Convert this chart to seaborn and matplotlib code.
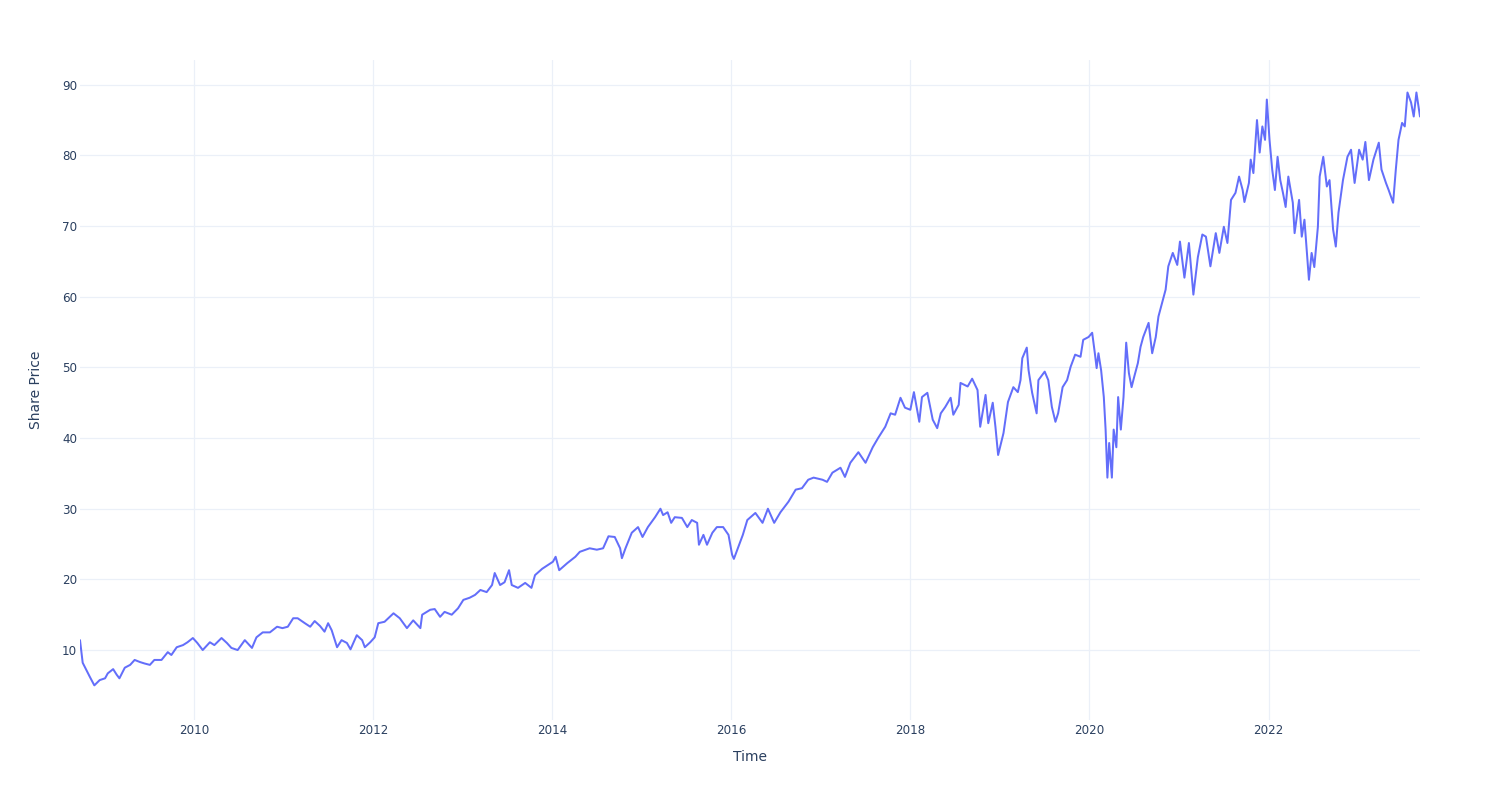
import matplotlib
matplotlib.use("Agg")
import matplotlib.pyplot as plt
import seaborn as sns
import pandas as pd

# Decimal-year timestamps and share prices
years = [
    2008.73, 2008.76, 2008.80, 2008.84, 2008.89, 2008.95, 2009.01, 2009.04, 2009.10, 2009.14,
    2009.17, 2009.23, 2009.29, 2009.34, 2009.40, 2009.45, 2009.51, 2009.56, 2009.64, 2009.71,
    2009.75, 2009.81, 2009.88, 2009.93, 2009.99, 2010.04, 2010.10, 2010.18, 2010.23, 2010.31,
    2010.37, 2010.42, 2010.49, 2010.57, 2010.65, 2010.70, 2010.77, 2010.85, 2010.93, 2010.99,
    2011.05, 2011.11, 2011.16, 2011.24, 2011.30, 2011.35, 2011.41, 2011.46, 2011.50, 2011.54,
    2011.60, 2011.65, 2011.71, 2011.75, 2011.82, 2011.88, 2011.91, 2011.97, 2012.02, 2012.06,
    2012.13, 2012.23, 2012.30, 2012.38, 2012.45, 2012.53, 2012.55, 2012.64, 2012.69, 2012.75,
    2012.80, 2012.88, 2012.95, 2013.01, 2013.08, 2013.14, 2013.20, 2013.27, 2013.33, 2013.36,
    2013.42, 2013.47, 2013.52, 2013.55, 2013.62, 2013.70, 2013.77, 2013.81, 2013.89, 2014.01,
    2014.04, 2014.08, 2014.17, 2014.26, 2014.31, 2014.42, 2014.50, 2014.57, 2014.63, 2014.70,
    2014.76, 2014.78, 2014.82, 2014.89, 2014.96, 2015.01, 2015.07, 2015.15, 2015.21, 2015.24,
    2015.29, 2015.33, 2015.37, 2015.45, 2015.51, 2015.56, 2015.62, 2015.64, 2015.69, 2015.73,
    2015.79, 2015.84, 2015.91, 2015.97, 2016.01, 2016.03, 2016.08, 2016.13, 2016.18, 2016.27,
    2016.35, 2016.41, 2016.48, 2016.55, 2016.64, 2016.72, 2016.79, 2016.86, 2016.92, 2017.02,
    2017.07, 2017.13, 2017.22, 2017.27, 2017.33, 2017.42, 2017.50, 2017.58, 2017.64, 2017.72,
    2017.78, 2017.83, 2017.89, 2017.94, 2018.00, 2018.04, 2018.10, 2018.13, 2018.19, 2018.25,
    2018.30, 2018.34, 2018.39, 2018.45, 2018.48, 2018.54, 2018.56, 2018.64, 2018.69, 2018.75,
    2018.78, 2018.84, 2018.87, 2018.92, 2018.95, 2018.98, 2019.04, 2019.09, 2019.15, 2019.20,
    2019.23, 2019.25, 2019.30, 2019.32, 2019.36, 2019.41, 2019.43, 2019.50, 2019.54, 2019.58,
    2019.62, 2019.65, 2019.70, 2019.75, 2019.79, 2019.84, 2019.90, 2019.93, 2019.99, 2020.03,
    2020.06, 2020.08, 2020.10, 2020.13, 2020.16, 2020.18, 2020.20, 2020.22, 2020.25, 2020.27,
    2020.30, 2020.32, 2020.35, 2020.38, 2020.41, 2020.44, 2020.47, 2020.50, 2020.54, 2020.57,
    2020.60, 2020.66, 2020.70, 2020.74, 2020.77, 2020.82, 2020.85, 2020.88, 2020.93, 2020.98,
    2021.01, 2021.06, 2021.11, 2021.16, 2021.21, 2021.26, 2021.30, 2021.35, 2021.41, 2021.45,
    2021.50, 2021.54, 2021.58, 2021.63, 2021.67, 2021.71, 2021.73, 2021.78, 2021.80, 2021.83,
    2021.87, 2021.90, 2021.93, 2021.96, 2021.98, 2022.01, 2022.04, 2022.07, 2022.10, 2022.13,
    2022.16, 2022.19, 2022.22, 2022.27, 2022.29, 2022.34, 2022.37, 2022.40, 2022.45, 2022.48,
    2022.51, 2022.55, 2022.57, 2022.61, 2022.65, 2022.68, 2022.72, 2022.75, 2022.78, 2022.83,
    2022.88, 2022.92, 2022.96, 2023.01, 2023.05, 2023.08, 2023.12, 2023.17, 2023.23, 2023.26,
    2023.31, 2023.34, 2023.39, 2023.42, 2023.45, 2023.49, 2023.52, 2023.55, 2023.59, 2023.62,
    2023.65, 2023.69,
]

prices = [
    11.4, 8.2, 7.2, 6.2, 5.0, 5.75, 6.0, 6.7, 7.3, 6.5,
    6.0, 7.5, 7.9, 8.6, 8.3, 8.1, 7.9, 8.6, 8.6, 9.7,
    9.3, 10.4, 10.7, 11.1, 11.7, 11.0, 10.0, 11.1, 10.7, 11.7,
    11.0, 10.3, 10.0, 11.4, 10.3, 11.8, 12.5, 12.5, 13.3, 13.1,
    13.3, 14.5, 14.5, 13.8, 13.3, 14.1, 13.4, 12.6, 13.8, 12.8,
    10.4, 11.4, 11.0, 10.1, 12.1, 11.4, 10.4, 11.1, 11.8, 13.8,
    14.0, 15.2, 14.5, 13.1, 14.2, 13.1, 15.0, 15.7, 15.8, 14.7,
    15.4, 15.0, 15.9, 17.1, 17.4, 17.8, 18.5, 18.2, 19.2, 20.9,
    19.2, 19.6, 21.3, 19.2, 18.8, 19.5, 18.8, 20.6, 21.5, 22.5,
    23.2, 21.3, 22.3, 23.2, 23.9, 24.4, 24.2, 24.4, 26.1, 26.0,
    24.4, 23.0, 24.4, 26.6, 27.4, 26.0, 27.4, 28.8, 30.0, 29.1,
    29.5, 28.0, 28.8, 28.7, 27.4, 28.4, 28.0, 24.9, 26.3, 24.9,
    26.6, 27.4, 27.4, 26.3, 23.5, 22.9, 24.6, 26.3, 28.4, 29.4,
    28.0, 30.0, 28.0, 29.5, 31.0, 32.7, 32.9, 34.1, 34.4, 34.1,
    33.8, 35.1, 35.8, 34.5, 36.5, 38.0, 36.5, 38.7, 40.0, 41.6,
    43.5, 43.3, 45.7, 44.3, 44.0, 46.5, 42.3, 45.8, 46.4, 42.6,
    41.4, 43.5, 44.4, 45.7, 43.3, 44.7, 47.8, 47.3, 48.4, 46.8,
    41.6, 46.1, 42.1, 45.0, 41.6, 37.6, 40.7, 45.1, 47.2, 46.5,
    48.2, 51.3, 52.8, 49.6, 46.4, 43.5, 48.2, 49.4, 48.2, 44.4,
    42.3, 43.5, 47.2, 48.2, 50.1, 51.8, 51.5, 53.9, 54.3, 54.9,
    52.0, 49.9, 52.0, 49.6, 45.8, 41.2, 34.4, 39.3, 34.4, 41.2,
    38.7, 45.8, 41.2, 45.8, 53.5, 49.2, 47.2, 48.7, 50.6, 52.9,
    54.3, 56.3, 52.0, 54.3, 57.2, 59.6, 61.0, 64.3, 66.2, 64.5,
    67.8, 62.7, 67.6, 60.3, 65.6, 68.8, 68.5, 64.3, 69.0, 66.2,
    69.9, 67.6, 73.7, 74.7, 77.0, 75.1, 73.4, 76.1, 79.4, 77.5,
    85.0, 80.4, 84.1, 82.2, 87.9, 82.2, 78.0, 75.1, 79.8, 76.5,
    74.7, 72.7, 77.0, 73.3, 69.0, 73.7, 68.5, 70.9, 62.4, 66.2,
    64.2, 69.9, 77.0, 79.8, 75.6, 76.5, 69.5, 67.1, 71.9, 76.5,
    79.8, 80.8, 76.1, 80.8, 79.4, 81.9, 76.5, 79.4, 81.8, 78.0,
    76.1, 75.1, 73.3, 78.0, 82.2, 84.6, 84.1, 88.9, 87.5, 85.5,
    88.9, 85.5,
]

x_ticks = [2010, 2012, 2014, 2016, 2018, 2020, 2022]
x_tick_labels = ["2010", "2012", "2014", "2016", "2018", "2020", "2022"]
y_ticks = [10, 20, 30, 40, 50, 60, 70, 80, 90]
y_tick_labels = ["10", "20", "30", "40", "50", "60", "70", "80", "90"]

df = pd.DataFrame({"Time": years, "Share Price": prices})

sns.set_style("white")
plt.rcParams["font.family"] = ["DejaVu Sans"]

text_color = "#2a3f5f"
grid_color = "#EBF0F8"

fig = plt.figure(figsize=(15, 8), dpi=100)
ax = fig.add_axes([80 / 1500, 80 / 800, 1340 / 1500, 660 / 800])

sns.lineplot(data=df, x="Time", y="Share Price", ax=ax, color="#636efa",
             linewidth=1.44, sort=False, zorder=3)

ax.set_xlim(years[0], years[-1])
ax.set_ylim(0.1, 93.5)

ax.set_xticks(x_ticks)
ax.set_xticklabels(x_tick_labels)
ax.set_yticks(y_ticks)
ax.set_yticklabels(y_tick_labels)

ax.grid(True, color=grid_color, linewidth=0.9, zorder=0)
ax.set_axisbelow(True)
for s in ax.spines.values():
    s.set_visible(False)

ax.tick_params(axis="both", length=0, labelsize=8.6, colors=text_color)
ax.tick_params(axis="x", pad=3)
ax.tick_params(axis="y", pad=2)

ax.set_xlabel("Time", fontsize=10, color=text_color, labelpad=9)
ax.set_ylabel("Share Price", fontsize=10, color=text_color, labelpad=14)

fig.savefig("out.png", dpi=100, facecolor="white")
